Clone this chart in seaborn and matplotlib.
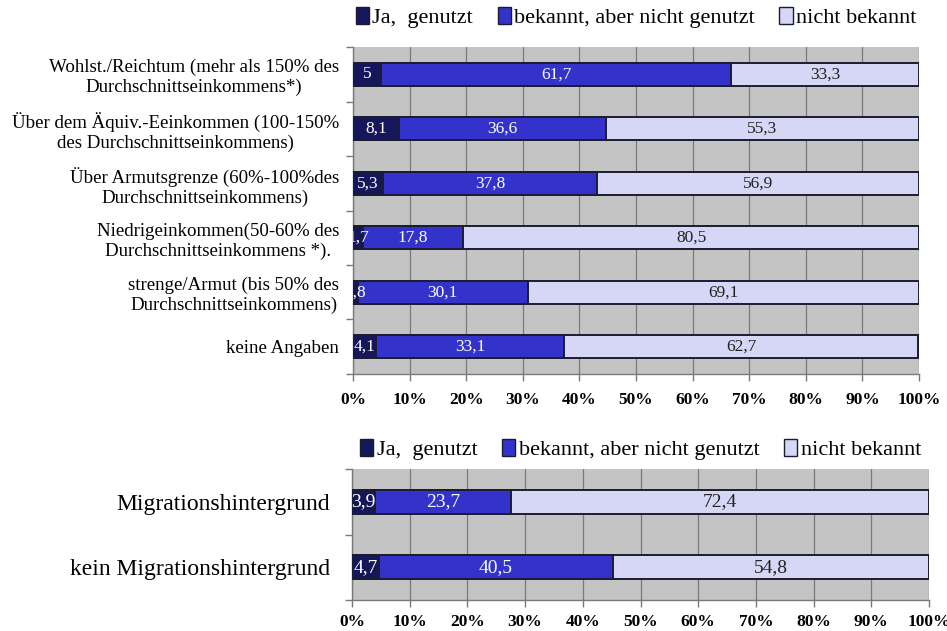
import numpy as np
import pandas as pd
import seaborn as sns
import matplotlib
matplotlib.use("Agg")
import matplotlib.pyplot as plt
from matplotlib.patches import Patch

sns.set_theme(style="white")
plt.rcParams["font.family"] = ["Liberation Serif", "DejaVu Serif"]
plt.rcParams["text.color"] = "black"
plt.rcParams["xtick.color"] = "black"
plt.rcParams["ytick.color"] = "black"

# Legend entries (answer categories)
series = ["Ja,  genutzt", "bekannt, aber nicht genutzt", "nicht bekannt"]

# Upper panel: income groups
income_groups = [
    "Wohlst./Reichtum (mehr als 150% des\nDurchschnittseinkommens*)",
    "Über dem Äquiv.-Eeinkommen (100-150%\ndes Durchschnittseinkommens)",
    "Über Armutsgrenze (60%-100%des\nDurchschnittseinkommens)",
    "Niedrigeinkommen(50-60% des\nDurchschnittseinkommens *).",
    "strenge/Armut (bis 50% des\nDurchschnittseinkommens)",
    "keine Angaben",
]
income_used = [5, 8.1, 5.3, 1.7, 0.8, 4.1]
income_known = [61.7, 36.6, 37.8, 17.8, 30.1, 33.1]
income_unknown = [33.3, 55.3, 56.9, 80.5, 69.1, 62.7]

# Lower panel: migration background
migration_groups = ["Migrationshintergrund", "kein Migrationshintergrund"]
migration_used = [3.9, 4.7]
migration_known = [23.7, 40.5]
migration_unknown = [72.4, 54.8]

x_ticks = list(range(0, 101, 10))
x_ticklabels = [f"{t}%" for t in x_ticks]

NAVY = "#16165a"
BLUE = "#3333cc"
LAVENDER = "#d6d6f6"
EDGE = "#1c1c30"
PLOT_BG = "#c4c4c4"
GRID = "#7a7a7a"
colors = [NAVY, BLUE, LAVENDER]


def fmt(v):
    return f"{v:g}".replace(".", ",")


def stacked_panel(ax, groups, used, known, unknown, bar_height,
                  cat_size, val_size, tick_size, cat_pad, tick_pad, legend_y):
    df = pd.DataFrame({
        "group": groups,
        "used": used,
        "known": known,
        "unknown": unknown,
    })
    df["cum2"] = df["used"] + df["known"]
    df["cum3"] = df["cum2"] + df["unknown"]

    ax.set_facecolor(PLOT_BG)
    # draw the cumulative totals back to front so each segment shows
    for col, colr in [("cum3", LAVENDER), ("cum2", BLUE), ("used", NAVY)]:
        sns.barplot(data=df, x=col, y="group", orient="h", color=colr,
                    saturation=1, width=bar_height, edgecolor=EDGE,
                    linewidth=1.4, ax=ax, zorder=3)

    n = len(groups)
    ax.set_xlim(0, 100)
    ax.set_ylim(n - 0.5, -0.5)
    ax.set_xlabel("")
    ax.set_ylabel("")

    # segment value labels
    for i, row in df.iterrows():
        segs = [(0, row["used"], "white"),
                (row["used"], row["known"], "white"),
                (row["cum2"], row["unknown"], "#222222")]
        for start, width, tc in segs:
            ax.text(start + width / 2, i, fmt(width), ha="center",
                    va="center", color=tc, fontsize=val_size, zorder=5,
                    clip_on=True)

    ax.set_xticks(x_ticks)
    ax.set_xticklabels(x_ticklabels, fontsize=tick_size, fontweight="bold")
    ax.grid(axis="x", color=GRID, linewidth=0.9, zorder=0)
    ax.grid(axis="y", visible=False)
    ax.set_axisbelow(True)

    ax.set_yticks(range(n))
    ax.set_yticklabels(groups, fontsize=cat_size, multialignment="center")
    ax.set_yticks(np.arange(-0.5, n), minor=True)
    ax.tick_params(axis="y", which="major", length=0, pad=cat_pad, left=False)
    ax.tick_params(axis="y", which="minor", length=5, width=1,
                   color=GRID, left=True, direction="out")
    ax.tick_params(axis="x", which="major", length=5, width=1, color=GRID,
                   bottom=True, direction="out", pad=tick_pad)

    for side in ["top", "right"]:
        ax.spines[side].set_visible(False)
    for side in ["left", "bottom"]:
        ax.spines[side].set_visible(True)
        ax.spines[side].set_color(GRID)
        ax.spines[side].set_linewidth(1)

    handles = [Patch(facecolor=c, edgecolor=EDGE, linewidth=1, label=s)
               for c, s in zip(colors, series)]
    ax.legend(handles=handles, loc="lower center",
              bbox_to_anchor=(0.5, legend_y), ncol=3, frameon=False,
              fontsize=16, handlelength=0.6, handleheight=0.8,
              handletextpad=0.15, columnspacing=1.1, borderaxespad=0)


fig = plt.figure(figsize=(9.47, 6.31), dpi=100)
fig.patch.set_facecolor("white")

ax_top = fig.add_axes([0.3728, 0.4073, 0.5977, 0.5182])
stacked_panel(ax_top, income_groups, income_used, income_known,
              income_unknown, bar_height=0.42, cat_size=13.6, val_size=12.5,
              tick_size=12.5, cat_pad=10, tick_pad=8, legend_y=1.03)

ax_bot = fig.add_axes([0.3717, 0.0491, 0.6093, 0.2076])
stacked_panel(ax_bot, migration_groups, migration_used, migration_known,
              migration_unknown, bar_height=0.36, cat_size=17, val_size=14,
              tick_size=12.5, cat_pad=16, tick_pad=5, legend_y=1.0)

fig.savefig("out.png", dpi=100, facecolor="white")
